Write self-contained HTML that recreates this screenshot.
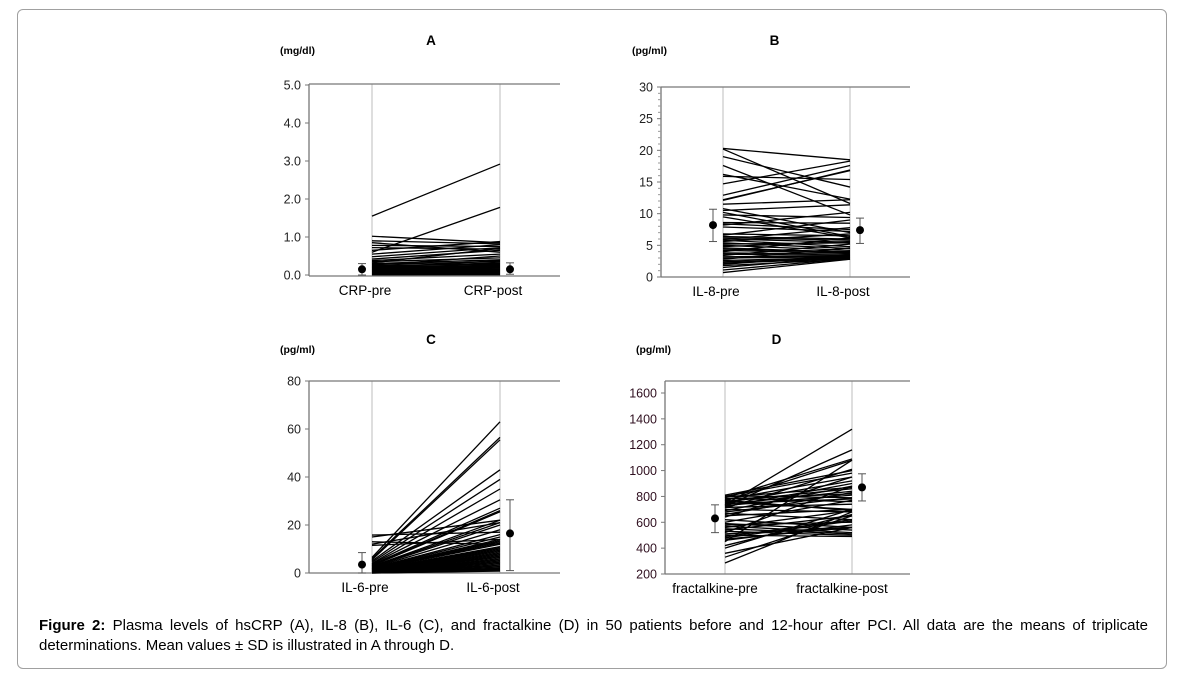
<!DOCTYPE html>
<html><head><meta charset="utf-8"><style>
html,body{margin:0;padding:0;background:#fff;width:1183px;height:684px;overflow:hidden;font-family:"Liberation Sans",sans-serif}
#frame{position:absolute;left:17px;top:9px;width:1150px;height:660px;border:1px solid #a0a0a0;border-radius:6px;box-sizing:border-box}
#cap{position:absolute;left:39px;top:616px;width:1109px;font-size:15px;line-height:20px;color:#000}
#cap .l1{display:block;text-align:justify;text-align-last:justify;white-space:nowrap}
svg{position:absolute;left:0;top:0}
</style></head><body>
<div id="frame"></div>
<svg id="chart" width="1183" height="684"></svg>
<div id="cap"><span class="l1" style="white-space:normal"><b>Figure 2:</b> Plasma levels of hsCRP (A), IL-8 (B), IL-6 (C), and fractalkine (D) in 50 patients before and 12-hour after PCI. All data are the means of triplicate</span>determinations. Mean values ± SD is illustrated in A through D.</div>
<script>
const crpPre=[1.55,0.6,1.02,0.9,0.85,0.78,0.72,0.65,0.55,0.48,0.42,0.38,0.35,0.32,0.3,0.28,0.26,0.25,0.24,0.22,0.21,0.2,0.19,0.18,0.17,0.16,0.15,0.14,0.13,0.12,0.11,0.1,0.09,0.08,0.08,0.07,0.06,0.06,0.05,0.05,0.04,0.04,0.03,0.03,0.02,0.02,0.02,0.01,0.01,0.01];
const crpPost=[2.92,1.78,0.85,0.82,0.6,0.75,0.68,0.88,0.8,0.72,0.65,0.55,0.45,0.7,0.4,0.35,0.5,0.3,0.28,0.32,0.25,0.22,0.38,0.2,0.18,0.27,0.15,0.24,0.12,0.2,0.1,0.18,0.09,0.15,0.08,0.12,0.06,0.1,0.05,0.08,0.04,0.07,0.03,0.05,0.03,0.02,0.04,0.02,0.01,0.01];
const il8Pre=[20.3,20.2,19,17.6,16.2,15.9,14.7,12.9,12.2,12.1,11.5,10.8,10.5,10.2,9.8,9.5,8.6,8.4,8.2,7.9,6.8,6.6,6.4,6.2,6,5.9,5.8,5.6,5.4,5.2,5,4.8,4.6,4.4,4.2,4,3.8,3.6,3.4,3.2,3,2.8,2.6,2.4,2.2,2,1.8,1.5,1.1,0.7];
const il8Post=[18.5,11.6,14.2,9.8,12.3,15.4,18.3,17.6,16.8,16.9,12.2,7,11.4,6.4,9.4,6.2,8.5,7.5,10.2,7.2,6.5,9,6,5.8,5.5,7.8,4.8,6.8,4.5,5.4,4.2,5.6,3.9,4,3.8,6.2,3.6,3.4,5.2,3.3,3.2,4.6,3.1,3,2.9,3.5,2.8,3.2,2.9,2.8];
const il6Pre=[15.8,15,13,12,11.5,6.5,6,5.5,5,4.5,4,3.8,3.5,3.2,3,2.8,2.6,2.4,2.2,2,1.9,1.8,1.7,1.6,1.5,1.4,1.3,1.2,1.1,1,0.9,0.8,0.7,0.6,0.5,0.5,0.4,0.4,0.3,0.3,0.2,0.2,0.2,0.1,0.1,0.1,0.1,0,0,0];
const il6Post=[17,22,12,21,14,63,56.5,55.5,43,39,35,30.5,27,26,25.5,22,21,20,18,16,15,14,13.5,13,12.5,12,11,10.5,10,9.5,9,8.5,8,7.5,7,6.5,6,5.5,5,4.5,4,3.5,3,2.5,2,1.8,1.5,1.2,1,0.8];
const fkPre=[810,805,800,795,790,785,780,775,770,765,760,755,750,745,740,735,730,725,720,715,710,700,690,680,670,660,650,640,620,600,590,580,570,560,550,540,530,520,510,500,490,480,470,460,450,420,400,360,330,285];
const fkPost=[1000,790,980,870,1090,760,820,950,690,1080,860,700,920,780,840,1320,810,1160,900,740,1010,680,880,790,620,830,700,950,560,770,540,600,520,690,510,650,500,880,560,490,620,610,560,580,1080,660,700,560,650,680];
const means=[[0.15,0.0,0.3,0.15,0.02,0.32],[8.2,5.6,10.7,7.4,5.3,9.3],[3.5,0,8.5,16.5,1,30.5],[630,520,735,870,765,975]];
const panels=[
 {id:'a',title:'A',unit:'(mg/dl)',pre:crpPre,post:crpPost,ticks:[0,1,2,3,4,5],fmt:v=>v.toFixed(1),min:0,max:5,ax:309,top:84,y0:85,y1:275,bot:276,xl:372,xr:500,right:560,lab:['CRP-pre','CRP-post'],minor:0,ty:47},
 {id:'b',title:'B',unit:'(pg/ml)',pre:il8Pre,post:il8Post,ticks:[0,5,10,15,20,25,30],fmt:v=>String(v),min:0,max:30,ax:661,top:87,y0:87,y1:277,bot:277,xl:723,xr:850,right:910,lab:['IL-8-pre','IL-8-post'],minor:1,ty:47},
 {id:'c',title:'C',unit:'(pg/ml)',pre:il6Pre,post:il6Post,ticks:[0,20,40,60,80],fmt:v=>String(v),min:0,max:80,ax:309,top:381,y0:381,y1:573,bot:573,xl:372,xr:500,right:560,lab:['IL-6-pre','IL-6-post'],minor:0,ty:346},
 {id:'d',title:'D',unit:'(pg/ml)',pre:fkPre,post:fkPost,ticks:[200,400,600,800,1000,1200,1400,1600],fmt:v=>String(v),min:200,max:1600,ax:665,top:381,y0:393,y1:574,bot:574,xl:725,xr:852,right:910,lab:['fractalkine-pre','fractalkine-post'],minor:0,ty:346}];
const svg=document.getElementById('chart');const NS='http://www.w3.org/2000/svg';
function mk(t,a,p){const e=document.createElementNS(NS,t);for(const k in a)e.setAttribute(k,a[k]);(p||svg).appendChild(e);return e;}
panels.forEach((P,pi)=>{
 const g=mk('g',{});
 
 
 const y=v=>P.y1-(v-P.min)/(P.max-P.min)*(P.y1-P.y0);
 const t=mk('text',{x:P.xl+(P.xr-P.xl)/2+(pi%2?-12:-5),y:P.ty-2,'font-size':13.5,'font-weight':'bold','text-anchor':'middle'},g);t.textContent=P.title;
 
 const u=mk('text',{x:P.ax-29,y:P.ty+7,'font-size':10.5,'font-weight':'bold'},g);u.textContent=P.unit;
 
 mk('line',{x1:P.xl,x2:P.xl,y1:P.top,y2:P.bot,stroke:'#ccc','stroke-width':1.3},g);
 mk('line',{x1:P.xr,x2:P.xr,y1:P.top,y2:P.bot,stroke:'#ccc','stroke-width':1.3},g);
 mk('line',{x1:P.ax,x2:P.right,y1:P.top,y2:P.top,stroke:'#777','stroke-width':1.3},g);
 mk('line',{x1:P.ax,x2:P.right,y1:P.bot,y2:P.bot,stroke:'#777','stroke-width':1.3},g);
 const ya=mk('line',{x1:P.ax,x2:P.ax,y1:P.top,y2:P.bot,stroke:'#777','stroke-width':1.3},g);
 
 P.ticks.forEach((v,i)=>{
  mk('line',{x1:P.ax-4,x2:P.ax,y1:y(v),y2:y(v),stroke:'#777'},g);
  if(P.minor&&i<P.ticks.length-1){for(let k=1;k<5;k++){const vv=v+k;mk('line',{x1:P.ax-3,x2:P.ax,y1:y(vv),y2:y(vv),stroke:'#999'},g);}}
  const tl=mk('text',{x:P.ax-8,y:y(v)+4.5,'font-size':12.5,'text-anchor':'end',fill:pi==3?'#301020':'#222'},g);tl.textContent=P.fmt(v);
  
 });
 P.pre.forEach((v,i)=>{
  const l=mk('line',{x1:P.xl,x2:P.xr,y1:y(v),y2:y(P.post[i]),stroke:'#000','stroke-width':1.3},g);
  
 });
 const m=means[pi];
 [[P.xl-10,m[0],m[1],m[2]],[P.xr+10,m[3],m[4],m[5]]].forEach(([x,mv,lo,hi])=>{
  mk('line',{x1:x,x2:x,y1:y(Math.max(lo,P.min)),y2:y(hi),stroke:'#555'},g);
  mk('line',{x1:x-4,x2:x+4,y1:y(hi),y2:y(hi),stroke:'#555'},g);
  mk('line',{x1:x-4,x2:x+4,y1:y(Math.max(lo,P.min)),y2:y(Math.max(lo,P.min)),stroke:'#555'},g);
  const c=mk('circle',{cx:x,cy:y(mv),r:4,fill:'#000'},g);
  
 });
 P.lab.forEach((s,i)=>{
  const x=i?P.xr:P.xl;
  const tx=mk('text',{x:x-(pi==3?10:7),y:P.bot+19,'font-size':13.5,'text-anchor':'middle'},g);tx.textContent=s;
  
 });
});
</script>
</body></html>
